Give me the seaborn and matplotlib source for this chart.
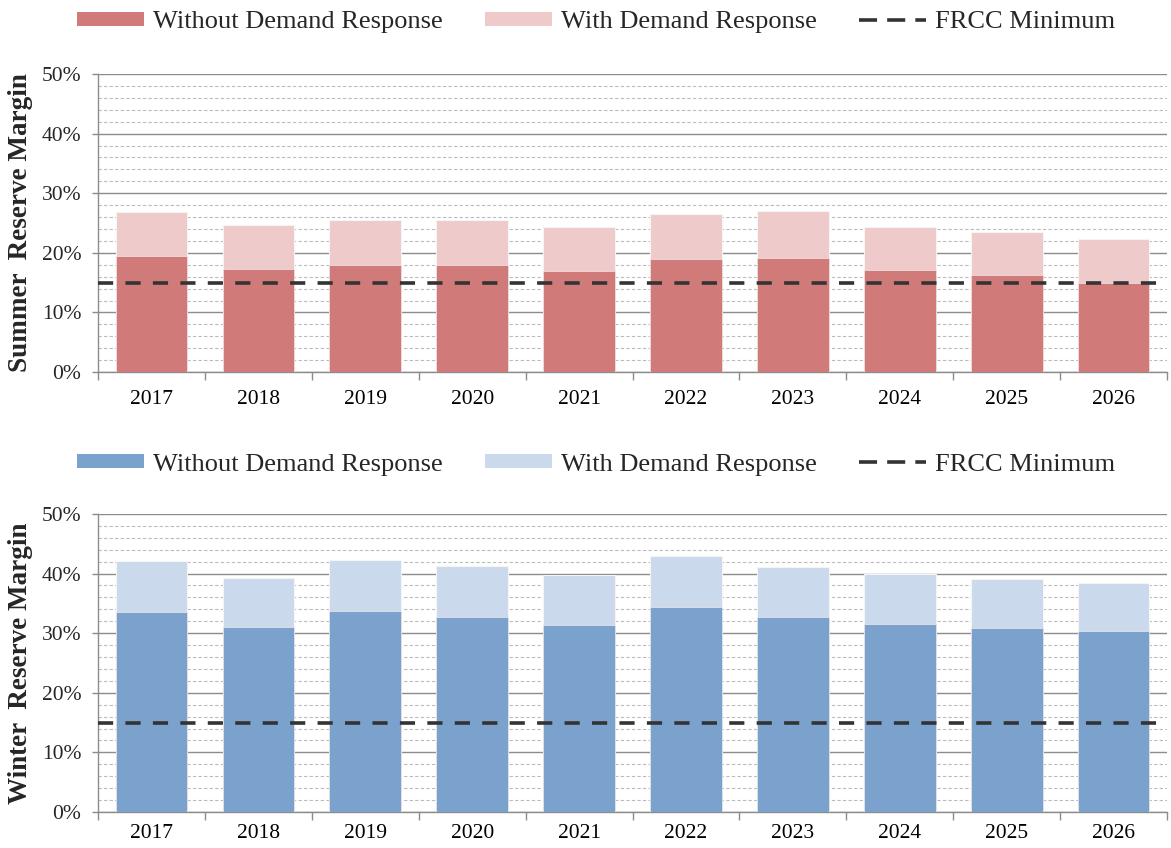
import matplotlib
matplotlib.use("Agg")
import matplotlib.pyplot as plt
import seaborn as sns
import pandas as pd
import numpy as np
from matplotlib.patches import Patch
from matplotlib.lines import Line2D
from matplotlib.ticker import MultipleLocator, FuncFormatter, FixedLocator

years = ["2017", "2018", "2019", "2020", "2021", "2022", "2023", "2024", "2025", "2026"]
summer_without = [19.5, 17.3, 17.9, 17.9, 16.9, 19.0, 19.2, 17.1, 16.2, 15.0]
summer_with = [26.8, 24.7, 25.5, 25.5, 24.4, 26.5, 27.0, 24.4, 23.5, 22.3]
winter_without = [33.5, 31.0, 33.8, 32.7, 31.3, 34.4, 32.7, 31.6, 30.8, 30.3]
winter_with = [42.1, 39.3, 42.3, 41.2, 39.8, 43.0, 41.1, 40.0, 39.1, 38.5]
frcc_minimum = 15.0

sns.set_theme(style="white")
plt.rcParams["font.family"] = ["Liberation Serif", "DejaVu Serif"]

fig = plt.figure(figsize=(11.71, 8.48), dpi=100)
ax_top = fig.add_axes([0.0837, 0.5613, 0.913, 0.3514])
ax_bot = fig.add_axes([0.0837, 0.0425, 0.913, 0.3514])

panels = [
    (ax_top, summer_without, summer_with, "#D07B79", "#EECACA", "Summer  Reserve Margin", 0.974, 13),
    (ax_bot, winter_without, winter_with, "#7BA1CD", "#CADAEC", "Winter  Reserve Margin", 0.452, 9),
]

for ax, wo, wi, c_dark, c_light, ylabel, leg_y, xpad in panels:
    df = pd.DataFrame({"year": years, "without": wo, "with": wi})
    sns.barplot(data=df, x="year", y="with", color=c_light, saturation=1, width=0.67,
                edgecolor="#F5F5F5", linewidth=0.8, ax=ax, zorder=3)
    sns.barplot(data=df, x="year", y="without", color=c_dark, saturation=1, width=0.67,
                edgecolor="#F0E8E8", linewidth=0.5, ax=ax, zorder=3)
    ax.axhline(frcc_minimum, color="#333333", lw=2.6, dashes=(4.2, 3.4), zorder=5)

    ax.set_xlim(-0.5, len(years) - 0.5)
    ax.set_ylim(0, 50)
    ax.yaxis.set_major_locator(MultipleLocator(10))
    ax.yaxis.set_minor_locator(MultipleLocator(2))
    ax.yaxis.set_major_formatter(FuncFormatter(lambda v, p: f"{int(round(v))}%"))
    ax.grid(which="major", axis="y", color="#8C8C8C", lw=1.0, zorder=0)
    ax.grid(which="minor", axis="y", color="#BBBBBB", lw=0.8, ls=(0, (3, 2)), zorder=0)
    ax.grid(which="major", axis="x", visible=False)
    ax.set_axisbelow(True)

    ax.xaxis.set_minor_locator(FixedLocator(np.arange(-0.5, len(years), 1.0)))
    ax.tick_params(axis="x", which="major", length=0, labelsize=15.5, pad=xpad, colors="#000000")
    ax.tick_params(axis="x", which="minor", length=6, width=1, color="#8C8C8C", direction="out", bottom=True)
    ax.tick_params(axis="y", which="major", length=4, width=1, color="#8C8C8C", direction="out",
                   left=True, labelsize=15.5, pad=8)
    ax.tick_params(axis="y", which="minor", length=0)

    for s in ["top", "right"]:
        ax.spines[s].set_visible(False)
    for s in ["left", "bottom"]:
        ax.spines[s].set_color("#8C8C8C")
        ax.spines[s].set_linewidth(1.0)

    ax.set_xlabel("")
    ax.set_ylabel(ylabel, fontsize=19.5, fontweight="bold", labelpad=6)

    handles = [
        Patch(facecolor=c_dark, edgecolor="none", label="Without Demand Response"),
        Patch(facecolor=c_light, edgecolor="none", label="With Demand Response"),
        Line2D([0], [0], color="#333333", lw=2.6, dashes=(5.0, 2.8), label="FRCC Minimum"),
    ]
    fig.legend(handles=handles, loc="center", bbox_to_anchor=(0.509, leg_y), ncol=3,
               frameon=False, fontsize=19, handlelength=2.55, handleheight=0.45,
               columnspacing=1.6, handletextpad=0.34)

fig.savefig("out.png", dpi=100)
